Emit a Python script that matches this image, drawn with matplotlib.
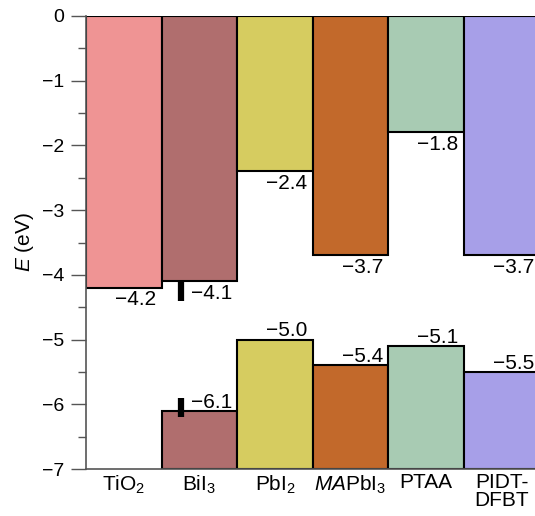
import matplotlib.pyplot as plt
import numpy as np

plt.rcParams['font.family'] = ['Liberation Sans', 'DejaVu Sans']
plt.rcParams['mathtext.fontset'] = 'custom'
plt.rcParams['mathtext.rm'] = 'Liberation Sans'
plt.rcParams['mathtext.it'] = 'Liberation Sans:italic'

materials = ["TiO$_2$", "BiI$_3$", "PbI$_2$", "$\\it{MA}$PbI$_3$", "PTAA", "PIDT-\nDFBT"]
cb_levels = [-4.2, -4.1, -2.4, -3.7, -1.8, -3.7]
vb_levels = [None, -6.1, -5.0, -5.4, -5.1, -5.5]
colors = ["#EF9494", "#B06E6E", "#D6CC60", "#C2692B", "#A8CBB3", "#A79FE8"]
# BiI3 uncertainty markers (index, low, high)
bii3_ranges = [(1, -4.4, -4.1), (1, -6.2, -5.9)]
e_min = -7


def fmt(v):
    return f"{v:.1f}".replace("-", "\u2212")


fig = plt.figure(figsize=(5.35, 5.16), dpi=100)
ax = fig.add_axes([0.161, 0.091, 0.84, 0.878])

x = np.arange(len(materials))
for i in x:
    ax.bar(i, cb_levels[i], width=1.0, bottom=0, color=colors[i],
           edgecolor="black", linewidth=1.5, zorder=2)
    ax.text(i + 0.43, cb_levels[i] - 0.04, fmt(cb_levels[i]),
            ha="right", va="top", fontsize=15, zorder=3)
    if vb_levels[i] is not None:
        ax.bar(i, vb_levels[i] - e_min, width=1.0, bottom=e_min, color=colors[i],
               edgecolor="black", linewidth=1.5, zorder=2)
        ax.text(i + 0.43, vb_levels[i] + 0.05, fmt(vb_levels[i]),
                ha="right", va="baseline", fontsize=15, zorder=3)

for idx, lo, hi in bii3_ranges:
    ax.plot([idx - 0.25, idx - 0.25], [lo, hi], color="black", linewidth=4.5,
            solid_capstyle="butt", zorder=4)

ax.set_xlim(-0.5, 5.45)
ax.set_ylim(e_min, 0)
ax.set_xticks(x)
ax.set_xticklabels(materials, fontsize=15, linespacing=0.95)
ax.tick_params(axis="x", length=0, pad=3)
ax.set_yticks(np.arange(-7, 1, 1))
ax.set_yticklabels([f"{v}".replace("-", "\u2212") for v in range(-7, 1)], fontsize=14)
ax.set_yticks(np.arange(-6.5, 0, 1), minor=True)
ax.tick_params(axis="y", which="major", length=11, width=1, color="#555555", pad=5)
ax.tick_params(axis="y", which="minor", length=5.5, width=1, color="#555555")
ax.set_ylabel("$\\it{E}$ (eV)", fontsize=15, labelpad=4)

for side in ["top", "right"]:
    ax.spines[side].set_visible(False)
for side in ["left", "bottom"]:
    ax.spines[side].set_color("#555555")
    ax.spines[side].set_linewidth(1.2)

fig.savefig("out.png", dpi=100)
